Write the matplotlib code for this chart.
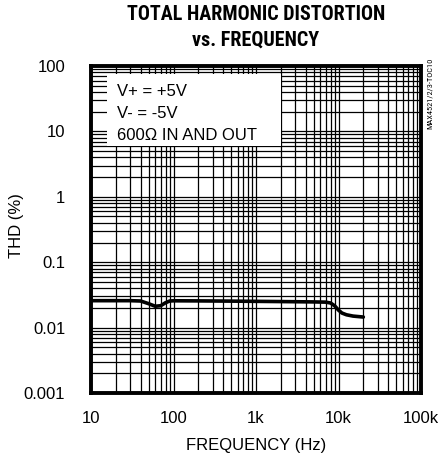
import matplotlib
matplotlib.use("Agg")
import matplotlib.pyplot as plt
from matplotlib import font_manager
from matplotlib.ticker import LogLocator, NullFormatter, FixedLocator
from matplotlib.patches import Rectangle

# data
freq = [10, 20, 30, 40, 50, 60, 70, 80, 90, 100, 200, 500, 1000, 2000, 5000,
        7000, 8000, 9000, 10000, 11000, 12500, 15000, 20000]
thd = [0.0258, 0.0258, 0.0258, 0.0255, 0.0232, 0.0212, 0.0216, 0.0240, 0.0255,
       0.0257, 0.0256, 0.0254, 0.0252, 0.0250, 0.0247, 0.0245, 0.0238, 0.0215,
       0.0185, 0.0167, 0.0157, 0.0150, 0.0145]
xticks = [10, 100, 1000, 10000, 100000]
xticklabels = ["10", "100", "1k", "10k", "100k"]
yticks = [0.001, 0.01, 0.1, 1, 10, 100]
yticklabels = ["0.001", "0.01", "0.1", "1", "10", "100"]
title_lines = ["TOTAL HARMONIC DISTORTION", "vs. FREQUENCY"]
notes = ["V+ = +5V", "V- = -5V", "600\u03a9 IN AND OUT"]

# find a condensed font if one exists
names = {f.name for f in font_manager.fontManager.ttflist}
cond = None
for cand in ["Liberation Sans Narrow", "Roboto Condensed", "Open Sans Condensed",
             "DejaVu Sans Condensed", "Noto Sans Condensed"]:
    if cand in names:
        cond = cand
        break
cond_stretch = "normal"
if cond is None:
    for f in font_manager.fontManager.ttflist:
        if f.name == "DejaVu Sans" and "Condensed" in f.fname:
            cond = "DejaVu Sans"
            cond_stretch = "condensed"
            break
if cond is None:
    cond = "Roboto"
    title_size = 13.5
    side_size = 5.2
else:
    title_size = 14.5
    side_size = 6.0

W, H = 438, 455
fig = plt.figure(figsize=(W / 100, H / 100), dpi=100)
L, R, T, B = 91, 421, 66, 393
ax = fig.add_axes([L / W, 1 - B / H, (R - L) / W, (B - T) / H])
ax.set_xscale("log")
ax.set_yscale("log")
ax.set_xlim(10, 100000)
ax.set_ylim(0.001, 100)

ax.xaxis.set_major_locator(FixedLocator(xticks))
ax.xaxis.set_minor_locator(LogLocator(base=10, subs=range(2, 10), numticks=20))
ax.yaxis.set_major_locator(FixedLocator(yticks))
ax.yaxis.set_minor_locator(LogLocator(base=10, subs=range(2, 10), numticks=20))
ax.xaxis.set_minor_formatter(NullFormatter())
ax.yaxis.set_minor_formatter(NullFormatter())
ax.set_xticklabels(xticklabels)
ax.set_yticklabels(yticklabels)
ax.tick_params(which="both", length=0)
ax.tick_params(axis="x", pad=13, labelsize=12)
ax.tick_params(axis="y", pad=18.5, labelsize=12)
for lab in ax.get_xticklabels() + ax.get_yticklabels():
    lab.set_family("Liberation Sans")

ax.grid(True, which="both", color="black", linewidth=0.9)
ax.set_axisbelow(True)
for s in ax.spines.values():
    s.set_linewidth(2.8)
    s.set_zorder(5)

# white box masking grid behind notes
bx0, bx1, by0, by1 = 107, 281, 74, 146
ax.add_patch(Rectangle(((bx0 - L) / (R - L), 1 - (by1 - T) / (B - T)),
                       (bx1 - bx0) / (R - L), (by1 - by0) / (B - T),
                       transform=ax.transAxes, facecolor="white",
                       edgecolor="none", zorder=2))
for txt, yp in zip(notes, [92, 114, 136]):
    fig.text(117 / W, 1 - yp / H, txt, fontsize=12, family="Liberation Sans",
             va="center", ha="left", zorder=6)

ax.plot(freq, thd, color="black", linewidth=2.6, solid_joinstyle="round",
        solid_capstyle="round", zorder=4)

ax.set_xlabel("FREQUENCY (Hz)", fontsize=12, family="Liberation Sans", labelpad=8.5)
fig.text(16 / W, 1 - 226 / H, "THD (%)", rotation=90, fontsize=12,
         family="Liberation Sans", ha="center", va="center")

fig.text(256 / W, 1 - 15 / H, title_lines[0], fontsize=title_size, fontweight="heavy",
         family=cond, fontstretch=cond_stretch, ha="center", va="center")
fig.text(256 / W, 1 - 40 / H, title_lines[1], fontsize=title_size, fontweight="heavy",
         family=cond, fontstretch=cond_stretch, ha="center", va="center")
fig.text(430 / W, 1 - 93 / H, "MAX4521/2/3-TOC10", rotation=90, fontsize=side_size,
         family=cond, fontstretch=cond_stretch, ha="center", va="center")

fig.savefig("out.png", dpi=100)
